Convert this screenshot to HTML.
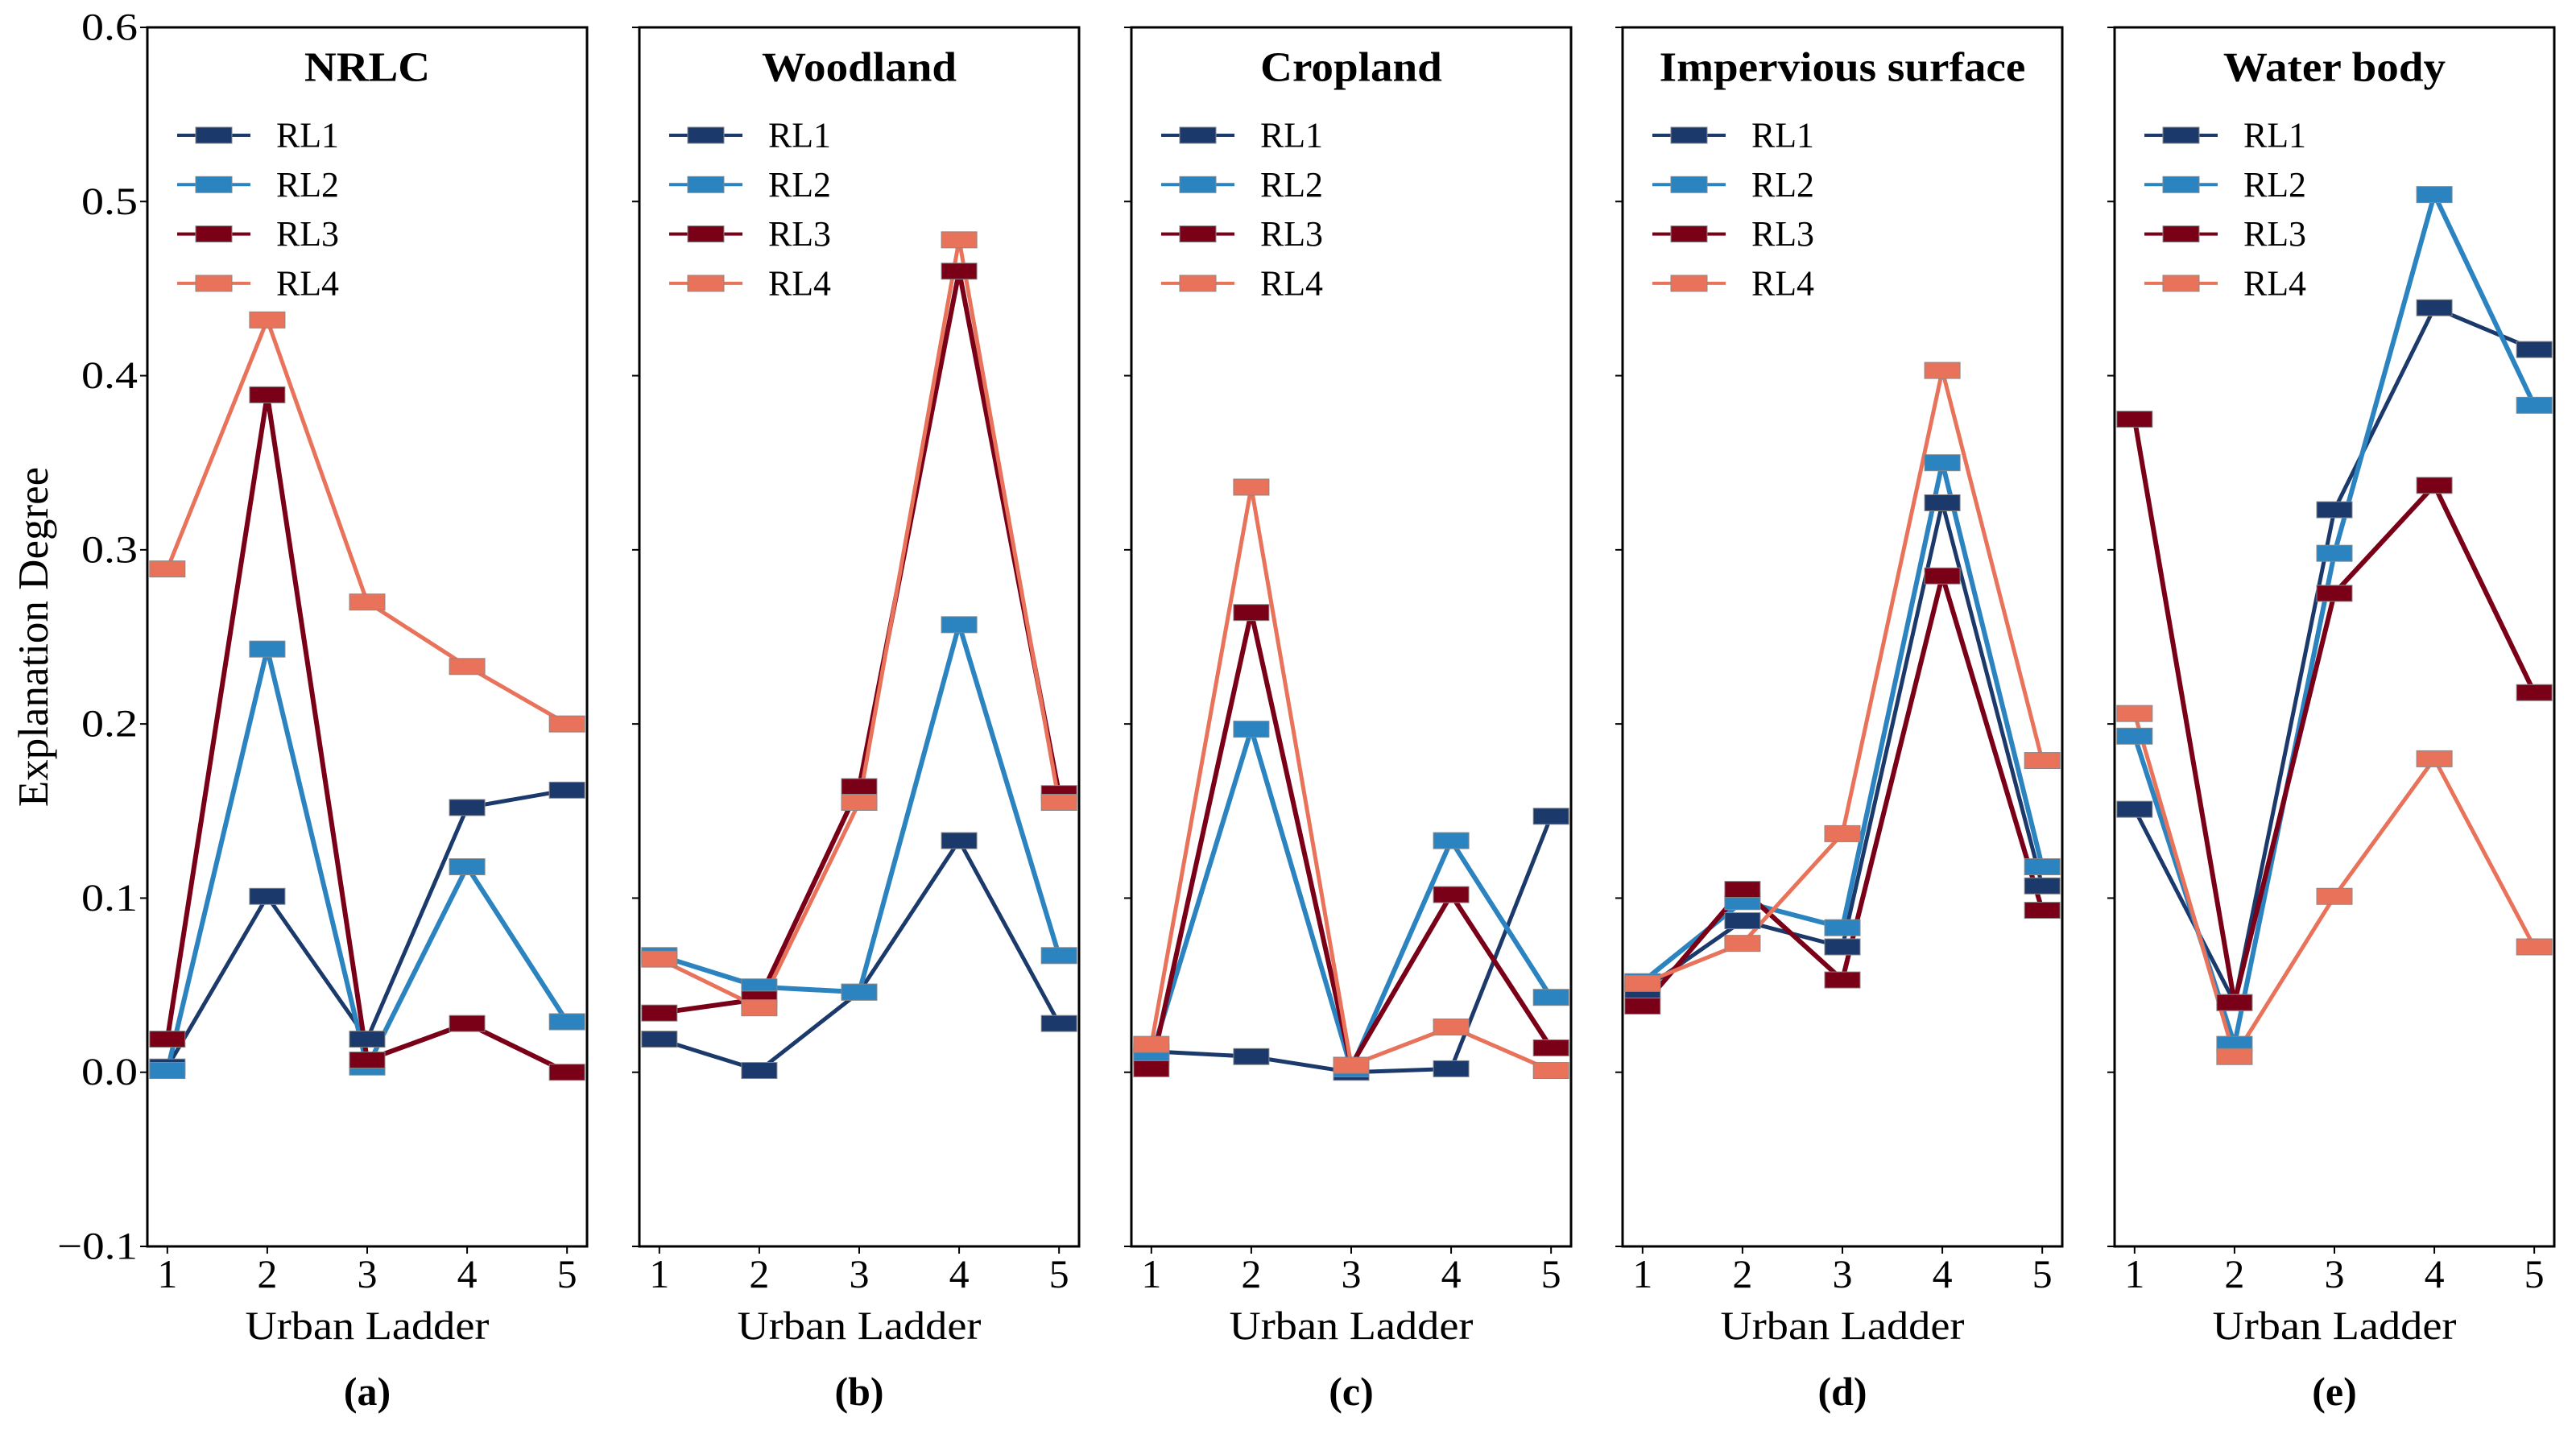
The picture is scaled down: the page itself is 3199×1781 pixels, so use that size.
<!DOCTYPE html>
<html><head><meta charset="utf-8"><style>
html,body{margin:0;padding:0;background:#fff}
svg{display:block}
text{font-family:"Liberation Serif",serif;fill:#000}
</style></head><body>
<svg id="chart" width="3199" height="1781" viewBox="0 0 3199 1781" xmlns="http://www.w3.org/2000/svg"></svg>
<script>
const categories = [1,2,3,4,5];
const panelTitles = ["NRLC","Woodland","Cropland","Impervious surface","Water body"];
const panelLetters = ["(a)","(b)","(c)","(d)","(e)"];
const seriesNames = ["RL1","RL2","RL3","RL4"];
const yTicks = [-0.1,0.0,0.1,0.2,0.3,0.4,0.5,0.6];
const yTickLabels = ["\u22120.1","0.0","0.1","0.2","0.3","0.4","0.5","0.6"];
const nrlc = [[0.003,0.101,0.019,0.152,0.162],[0.001,0.243,0.003,0.118,0.029],[0.019,0.389,0.007,0.028,0.000],[0.289,0.432,0.270,0.233,0.200]];
const woodland = [[0.019,0.001,0.046,0.133,0.028],[0.067,0.049,0.046,0.257,0.067],[0.034,0.042,0.164,0.460,0.160],[0.065,0.037,0.155,0.478,0.155]];
const cropland = [[0.012,0.009,0.000,0.002,0.147],[0.009,0.197,0.002,0.133,0.043],[0.002,0.264,0.004,0.102,0.014],[0.016,0.336,0.004,0.026,0.001]];
const impervious = [[0.047,0.087,0.072,0.327,0.107],[0.052,0.098,0.083,0.350,0.118],[0.038,0.105,0.053,0.285,0.093],[0.051,0.074,0.137,0.403,0.179]];
const water = [[0.151,0.040,0.323,0.439,0.415],[0.193,0.016,0.298,0.504,0.383],[0.375,0.040,0.275,0.337,0.218],[0.206,0.009,0.101,0.180,0.072]];
const panelData = [nrlc, woodland, cropland, impervious, water];

const colors = ["#1b3a6b","#2b83c0","#7a0018","#e8735a"];
const NS = "http://www.w3.org/2000/svg";
const svg = document.getElementById("chart");
const top0 = 34, bot0 = 1548, pw = 546;
const lefts = [183,794,1405,2015,2626];
function mk(tag, attrs, parent){const e=document.createElementNS(NS,tag);for(const k in attrs)e.setAttribute(k,attrs[k]);(parent||svg).appendChild(e);return e;}
function yS(v){return bot0 - (v - (-0.1)) / 0.7 * (bot0 - top0);}

const ym=(top0+bot0)/2;
const yt = mk("text",{x:42,y:ym,"font-size":53,"text-anchor":"middle",transform:`rotate(-90 42 ${ym})`,"dominant-baseline":"central"});


yt.textContent="Explanation Degree";

panelData.forEach((pd, p) => {
  const L = lefts[p];
  const xS = v => L + (v - 0.8) / 4.4 * pw;
  const g = mk("g",{});
  
  
  yTicks.forEach((t,i)=>{
    const y=yS(t);
    const tk=mk("line",{x1:L-9,x2:L,y1:y,y2:y,stroke:"#000","stroke-width":2},g);
    
    
    if(p===0){
      const tl=mk("text",{x:L-12,y:y,"font-size":48,"text-anchor":"end","dominant-baseline":"central",textLength:i===0?100:70,lengthAdjust:"spacingAndGlyphs"},g);
      
      
      tl.textContent=yTickLabels[i];
    }
  });
  categories.forEach(c=>{
    const x=xS(c);
    const tk=mk("line",{x1:x,x2:x,y1:bot0,y2:bot0+9,stroke:"#000","stroke-width":2},g);
    
    
    const tl=mk("text",{x:x,y:1582,"font-size":50,"text-anchor":"middle","dominant-baseline":"central"},g);
    
    
    tl.textContent=c;
  });
  pd.forEach((vals,s)=>{
    const pts=vals.map((v,i)=>xS(categories[i])+","+yS(v)).join(" ");
    const pl=mk("polyline",{points:pts,fill:"none",stroke:colors[s],"stroke-width":s===0||s===3?5:6,"stroke-linejoin":"round"},g);
    
    
  });
  pd.forEach((vals,s)=>{
    vals.forEach((v,i)=>{
      const r=mk("rect",{x:xS(categories[i])-22,y:yS(v)-10,width:44,height:20,fill:colors[s],stroke:"#888","stroke-width":1},g);
      
      
    });
  });
  const fr=mk("rect",{x:L,y:top0,width:pw,height:bot0-top0,fill:"none",stroke:"#000","stroke-width":3},g);
  
  
  const ti=mk("text",{x:L+pw/2,y:84,"font-size":52,"font-weight":"bold","text-anchor":"middle","dominant-baseline":"central"},g);
  
  
  ti.textContent=panelTitles[p];
  const tw=ti.getComputedTextLength(); ti.setAttribute('textLength',tw*1.06); ti.setAttribute('lengthAdjust','spacingAndGlyphs');
  seriesNames.forEach((n,s)=>{
    const y=168+s*61.3;
    const lg=mk("g",{},g);
    
    
    mk("line",{x1:L+37,x2:L+128,y1:y,y2:y,stroke:colors[s],"stroke-width":4},lg);
    mk("rect",{x:L+60,y:y-10,width:45,height:20,fill:colors[s],stroke:"#888","stroke-width":1},lg);
    const lt=mk("text",{x:L+160,y:y,"font-size":44,"dominant-baseline":"central",textLength:78,lengthAdjust:"spacingAndGlyphs"},lg);
    lt.textContent=n;
  });
  const xt=mk("text",{x:L+pw/2,y:1646,"font-size":50,"text-anchor":"middle","dominant-baseline":"central",textLength:303,lengthAdjust:"spacingAndGlyphs"},g);
  
  
  xt.textContent="Urban Ladder";
  const lt=mk("text",{x:L+pw/2,y:1728,"font-size":50,"font-weight":"bold","text-anchor":"middle","dominant-baseline":"central"},g);
  
  
  lt.textContent=panelLetters[p];
});
</script>
</body></html>
